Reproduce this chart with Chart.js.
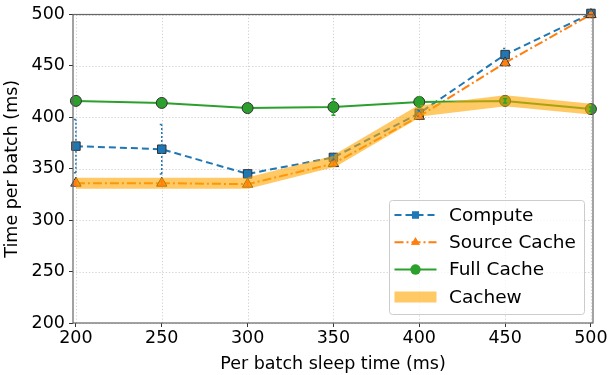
<!DOCTYPE html>
<html lang="en">
<head>
    <meta charset="UTF-8">
    <title>Time per batch vs sleep time</title>
    <script src="https://cdn.jsdelivr.net/npm/chart.js"></script>
    <style>
        body { margin: 0; padding: 0; background: #fff; }
        #wrap { width: 613px; height: 375px; position: relative; }
    </style>
</head>
<body>
    <div id="wrap"><canvas id="chartCanvas"></canvas></div>

    <script>
        // data
        const sleepTimes = [200, 250, 300, 350, 400, 450, 500];
        const computeMs = [372, 369, 345, 361, 404, 461, 501];
        const computeErr = [26, 24, 3, 3, 3, 6, 3];
        const sourceCacheMs = [336, 336, 335, 355, 401, 453, 500];
        const sourceCacheErr = [2, 2, 2, 2, 2, 2, 2];
        const fullCacheMs = [416, 414, 409, 410, 415, 416, 408];
        const fullCacheErr = [2, 2, 2, 8, 5, 2, 2];
        const cachewMs = [336, 336, 336, 357, 406, 416, 408];
        const xTicks = [200, 250, 300, 350, 400, 450, 500];
        const yTicks = [200, 250, 300, 350, 400, 450, 500];

        const FONT = "'DejaVu Sans', sans-serif";
        const pts = vals => sleepTimes.map((x, i) => ({ x: x, y: vals[i] }));

        // grid, error bars, frame box and legend
        const extras = {
            id: 'extras',
            beforeDatasetsDraw(chart) {
                const ctx = chart.ctx;
                const a = chart.chartArea;
                const xs = chart.scales.x, ys = chart.scales.y;
                ctx.save();
                ctx.strokeStyle = '#c4c4c4';
                ctx.lineWidth = 0.8;
                ctx.setLineDash([1.2, 2]);
                xs.ticks.forEach(t => {
                    const px = Math.round(xs.getPixelForValue(t.value)) + 0.5;
                    ctx.beginPath(); ctx.moveTo(px, a.top); ctx.lineTo(px, a.bottom); ctx.stroke();
                });
                ys.ticks.forEach(t => {
                    const py = Math.round(ys.getPixelForValue(t.value)) + 0.5;
                    ctx.beginPath(); ctx.moveTo(a.left, py); ctx.lineTo(a.right, py); ctx.stroke();
                });
                ctx.restore();
            },
            afterDatasetsDraw(chart) {
                const ctx = chart.ctx;
                const xs = chart.scales.x, ys = chart.scales.y;
                chart.data.datasets.forEach((ds, di) => {
                    if (!ds.errors || !chart.isDatasetVisible(di)) return;
                    ctx.save();
                    ctx.strokeStyle = ds.borderColor;
                    ctx.lineWidth = 1.5;
                    ctx.setLineDash(ds.errDash || []);
                    ds.data.forEach((p, i) => {
                        const e = ds.errors[i];
                        const px = xs.getPixelForValue(p.x);
                        const y1 = ys.getPixelForValue(p.y - e);
                        const y2 = ys.getPixelForValue(p.y + e);
                        ctx.beginPath();
                        ctx.moveTo(px, y1); ctx.lineTo(px, y2);
                        ctx.moveTo(px - 2, y1); ctx.lineTo(px + 2, y1);
                        ctx.moveTo(px - 2, y2); ctx.lineTo(px + 2, y2);
                        ctx.stroke();
                    });
                    ctx.restore();
                });
            },
            afterDraw(chart) {
                const ctx = chart.ctx;
                const a = chart.chartArea;
                ctx.save();
                ctx.strokeStyle = '#666';
                ctx.lineWidth = 1.2;
                ctx.strokeRect(a.left, a.top, a.right - a.left, a.bottom - a.top);
                ctx.restore();

                // legend box, lower right
                const bx = 389.5, by = 200.5, bw = 195, bh = 114;
                ctx.save();
                ctx.fillStyle = 'rgba(255,255,255,0.8)';
                ctx.strokeStyle = '#ccc';
                ctx.lineWidth = 1;
                ctx.beginPath();
                ctx.roundRect(bx, by, bw, bh, 3);
                ctx.fill(); ctx.stroke();
                ctx.font = '18.5px ' + FONT;
                ctx.textBaseline = 'middle';
                chart.data.datasets.forEach((ds, i) => {
                    const ry = by + 14.5 + i * 27.3;
                    const x0 = bx + 5, x1 = bx + 47, xm = (x0 + x1) / 2;
                    ctx.save();
                    ctx.strokeStyle = ds.borderColor;
                    ctx.lineWidth = ds.borderWidth;
                    ctx.setLineDash(ds.borderDash || []);
                    ctx.beginPath();
                    ctx.moveTo(x0, ry); ctx.lineTo(x1, ry);
                    ctx.stroke();
                    ctx.restore();
                    if (ds.pointStyle && ds.pointRadius > 0) {
                        ctx.save();
                        ctx.fillStyle = ds.borderColor;
                        Chart.helpers.drawPoint(ctx, { pointStyle: ds.pointStyle, radius: 5, borderWidth: 0, rotation: 0 }, xm, ry);
                        ctx.fill();
                        ctx.restore();
                    }
                    ctx.fillStyle = '#000';
                    ctx.fillText(ds.label, bx + 59.5, ry + 1);
                });
                ctx.restore();
            }
        };

        const ctx = document.getElementById('chartCanvas').getContext('2d');
        const chart = new Chart(ctx, {
            type: 'line',
            data: {
                datasets: [
                    {
                        label: 'Compute',
                        data: pts(computeMs),
                        errors: computeErr,
                        errDash: [2, 2],
                        borderColor: '#1f77b4',
                        backgroundColor: '#1f77b4',
                        borderWidth: 2,
                        borderDash: [7, 4],
                        pointStyle: 'rect',
                        pointRadius: 6,
                        pointBorderColor: '#333',
                        pointBorderWidth: 1,
                        clip: false,
                        order: 3
                    },
                    {
                        label: 'Source Cache',
                        data: pts(sourceCacheMs),
                        errors: sourceCacheErr,
                        borderColor: '#ff7f0e',
                        backgroundColor: '#ff7f0e',
                        borderWidth: 2,
                        borderDash: [9, 3, 2, 3],
                        pointStyle: 'triangle',
                        pointRadius: 6,
                        pointBorderColor: '#333',
                        pointBorderWidth: 1,
                        clip: false,
                        order: 2
                    },
                    {
                        label: 'Full Cache',
                        data: pts(fullCacheMs),
                        errors: fullCacheErr,
                        borderColor: '#2ca02c',
                        backgroundColor: '#2ca02c',
                        borderWidth: 2,
                        pointStyle: 'circle',
                        pointRadius: 5.5,
                        pointBorderColor: '#333',
                        pointBorderWidth: 1,
                        clip: false,
                        order: 1
                    },
                    {
                        label: 'Cachew',
                        data: pts(cachewMs),
                        borderColor: 'rgba(255, 165, 0, 0.6)',
                        backgroundColor: 'rgba(255, 165, 0, 0.6)',
                        borderWidth: 11,
                        pointRadius: 0,
                        pointStyle: false,
                        clip: false,
                        order: 0
                    }
                ]
            },
            options: {
                responsive: true,
                maintainAspectRatio: false,
                animation: false,
                events: [],
                layout: { padding: { top: 13, right: 20, left: 0, bottom: 0 } },
                plugins: {
                    legend: { display: false },
                    tooltip: { enabled: false }
                },
                elements: { line: { tension: 0, fill: false } },
                scales: {
                    x: {
                        type: 'linear',
                        min: 198.3,
                        max: 501.2,
                        afterFit(s) { s.height = 52; },
                        afterBuildTicks(s) { s.ticks = xTicks.map(v => ({ value: v })); },
                        ticks: {
                            color: '#000',
                            font: { family: FONT, size: 17.5 },
                            padding: 1,
                            maxRotation: 0
                        },
                        grid: {
                            drawOnChartArea: false,
                            tickColor: '#333',
                            tickLength: 4
                        },
                        border: { display: false },
                        title: {
                            display: true,
                            text: 'Per batch sleep time (ms)',
                            color: '#000',
                            font: { family: FONT, size: 17.5 },
                            padding: { top: 0, bottom: 0 }
                        }
                    },
                    y: {
                        min: 200,
                        max: 500,
                        afterFit(s) { s.width = 73; },
                        afterBuildTicks(s) { s.ticks = yTicks.map(v => ({ value: v })); },
                        ticks: {
                            color: '#000',
                            font: { family: FONT, size: 17.5 },
                            padding: 4
                        },
                        grid: {
                            drawOnChartArea: false,
                            tickColor: '#333',
                            tickLength: 4
                        },
                        border: { display: false },
                        title: {
                            display: true,
                            text: 'Time per batch (ms)',
                            color: '#000',
                            font: { family: FONT, size: 17.5 },
                            padding: { top: 2, bottom: 0 }
                        }
                    }
                }
            },
            plugins: [extras]
        });
    </script>
</body>
</html>
